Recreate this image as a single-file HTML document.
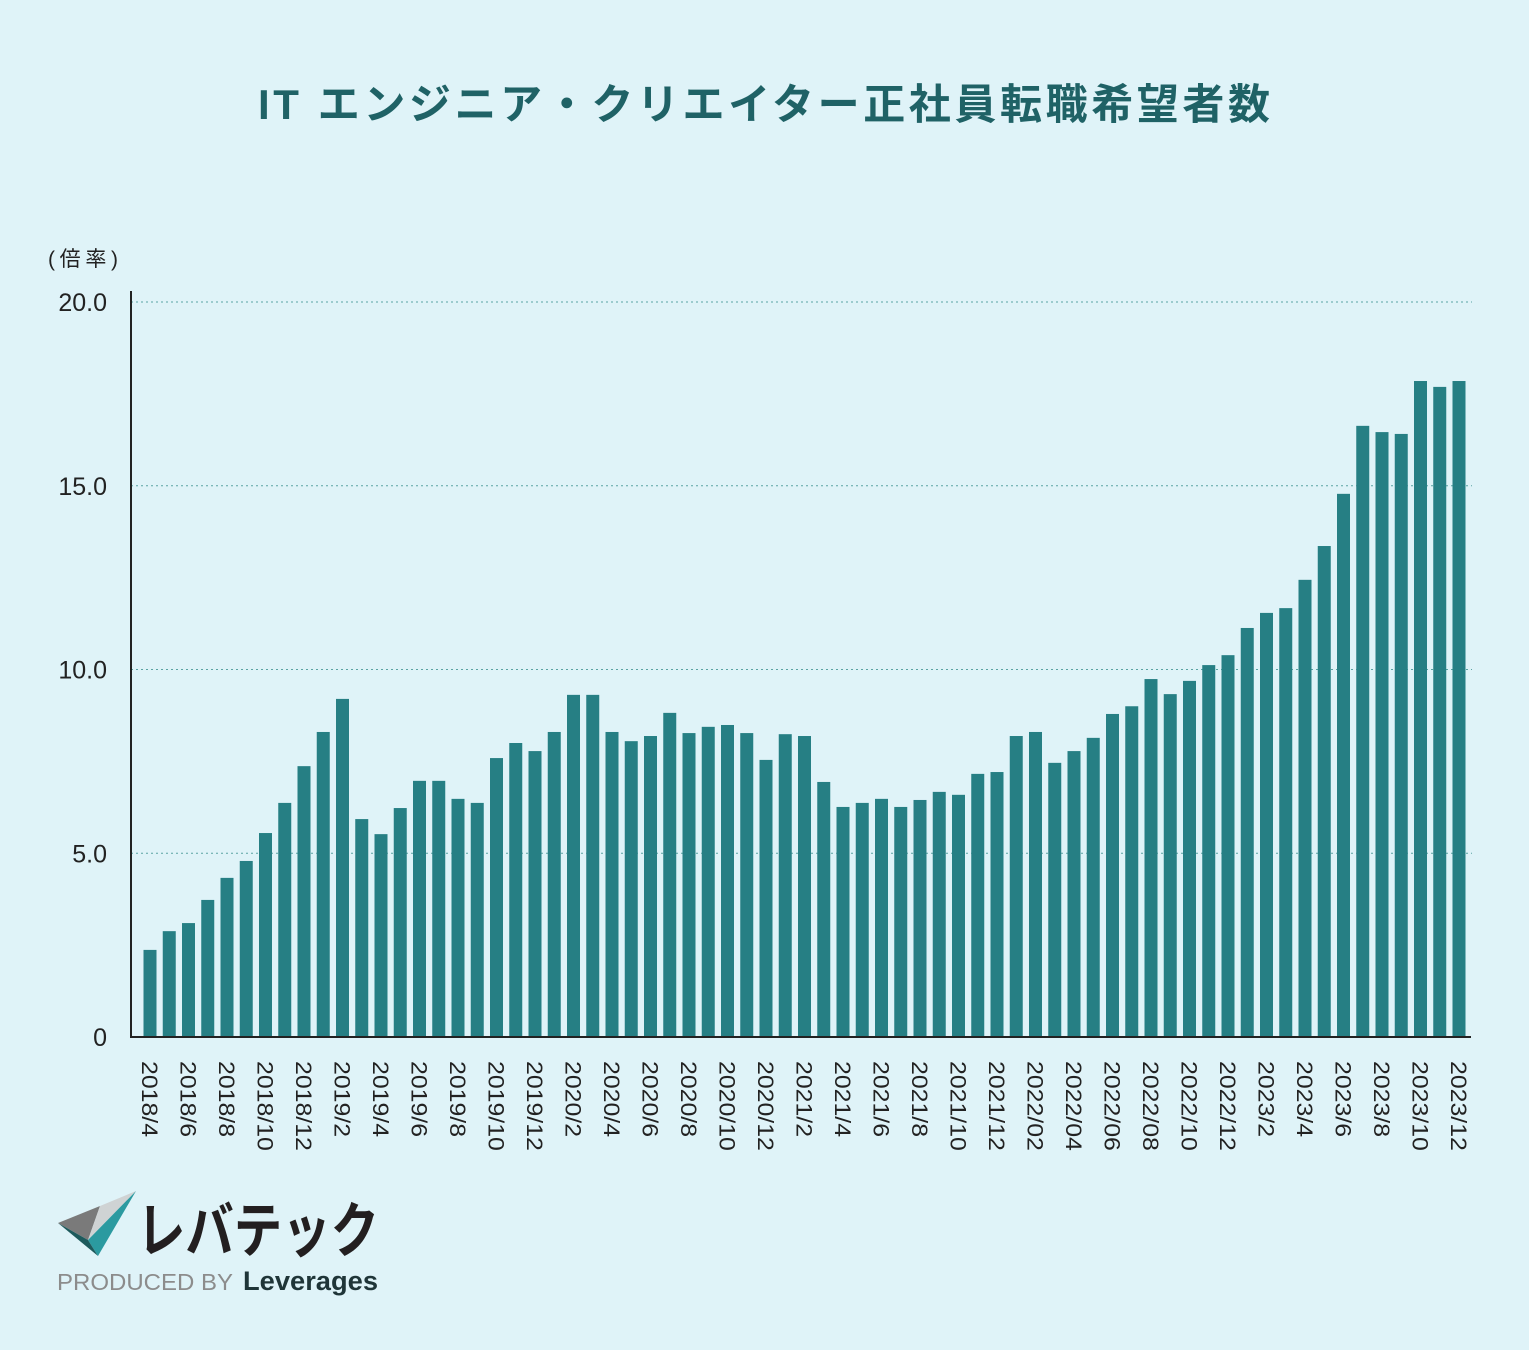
<!DOCTYPE html>
<html><head><meta charset="utf-8"><style>
body{margin:0;background:#dff3f8;}
svg{display:block;font-family:"Liberation Sans","Noto Sans CJK JP",sans-serif;}
</style></head><body>
<svg id="c" width="1529" height="1350" viewBox="0 0 1529 1350">
<rect width="1529" height="1350" fill="#dff3f8"/>
<text x="258" y="119" font-size="42" font-weight="bold" fill="#1f6266" font-family="'Liberation Sans','Noto Sans CJK JP',sans-serif" textLength="1012" lengthAdjust="spacing">IT エンジニア・クリエイター正社員転職希望者数</text>
<text x="48" y="266" font-size="21" fill="#222" font-family="'Liberation Sans','Noto Sans CJK JP',sans-serif" textLength="70">(倍率)</text>
<g id="grid"></g><g id="bars"></g><g id="xl"></g>
<line x1="131" y1="291" x2="131" y2="1038" stroke="#222" stroke-width="2"/>
<line x1="130" y1="1037" x2="1471" y2="1037" stroke="#222" stroke-width="2"/>
<g>
<polygon points="58,1223 100,1206 88,1240" fill="#7a7a7a"/>
<polygon points="100,1206 136,1191 88,1240" fill="#cfd3d4"/>
<polygon points="88,1240 136,1191 98,1256" fill="#2b9aa0"/>
<polygon points="58,1223 88,1240 98,1256" fill="#1d5a5c"/>
<text x="137" y="1252" font-size="60" font-weight="bold" fill="#231f20" font-family="'Noto Sans CJK JP',sans-serif" textLength="242" lengthAdjust="spacingAndGlyphs">レバテック</text>
<text x="57" y="1290" font-size="23" fill="#8c8c8c" textLength="176" lengthAdjust="spacingAndGlyphs">PRODUCED BY</text>
<text x="243" y="1290" font-size="27" font-weight="bold" fill="#1f3538" textLength="135" lengthAdjust="spacingAndGlyphs">Leverages</text>
</g>
</svg>
<script>
const categories=[];
(function(){for(let y=2018;y<=2023;y++){for(let m=(y===2018?4:1);m<=12;m++)categories.push(y+'/'+m);}})();
const values=[2.37,2.88,3.1,3.73,4.33,4.79,5.55,6.37,7.37,8.3,9.2,5.93,5.52,6.23,6.97,6.97,6.48,6.37,7.59,8.0,7.78,8.3,9.31,9.31,8.3,8.05,8.19,8.82,8.27,8.44,8.49,8.27,7.54,8.24,8.19,6.94,6.26,6.37,6.48,6.26,6.45,6.67,6.59,7.16,7.21,8.19,8.3,7.46,7.78,8.14,8.79,9.0,9.74,9.33,9.69,10.12,10.39,11.13,11.54,11.67,12.44,13.36,14.78,16.63,16.46,16.41,17.85,17.69,17.85];
const yTicks=[0,5,10,15,20];
const yTickLabels=['0','5.0','10.0','15.0','20.0'];
const NS='http://www.w3.org/2000/svg';
const y=v=>1037-v*36.75;
const x=i=>150+i*19.25;
const g=document.getElementById('grid'),b=document.getElementById('bars'),xl=document.getElementById('xl');
yTicks.forEach((t,k)=>{
 if(t>0){const l=document.createElementNS(NS,'line');
 l.setAttribute('x1',131);l.setAttribute('x2',1472);l.setAttribute('y1',y(t));l.setAttribute('y2',y(t));
 l.setAttribute('stroke','#5aa3a3');l.setAttribute('stroke-dasharray','2 3');
 
 
 g.appendChild(l);}
 const tx=document.createElementNS(NS,'text');
 tx.setAttribute('x',107);tx.setAttribute('y',y(t)+9);tx.setAttribute('text-anchor','end');tx.setAttribute('font-size','25');tx.setAttribute('fill','#222');
 tx.textContent=yTickLabels[k];
 
 
 g.appendChild(tx);
});
values.forEach((v,i)=>{
 const r=document.createElementNS(NS,'rect');
 r.setAttribute('x',x(i)-6.5);r.setAttribute('width',13);r.setAttribute('y',y(v));r.setAttribute('height',1037-y(v));r.setAttribute('fill','#267f84');
 
 
 b.appendChild(r);
 if(i%2===0){
  const [yy,mm]=categories[i].split('/');
  const lab=(yy==='2022')?yy+'/'+mm.padStart(2,'0'):categories[i];
  const t=document.createElementNS(NS,'text');
  t.setAttribute('transform','translate('+(x(i)-8)+',1061) rotate(90) scale(1.13,1)');
  t.setAttribute('font-size','22');t.setAttribute('fill','#222');
  t.textContent=lab;
  
  
  xl.appendChild(t);
 }
});
</script>
</body></html>
